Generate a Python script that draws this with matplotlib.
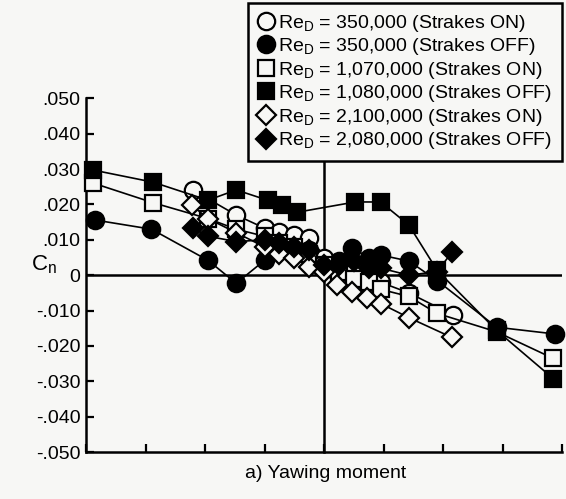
import matplotlib
matplotlib.use("Agg")
import matplotlib.pyplot as plt
from matplotlib.lines import Line2D

plt.rcParams["font.family"] = ["Liberation Sans", "DejaVu Sans"]
plt.rcParams["mathtext.fontset"] = "custom"
plt.rcParams["mathtext.rm"] = "Liberation Sans"
plt.rcParams["mathtext.it"] = "Liberation Sans"

# sideslip angle (deg) and yawing moment coefficient per run
beta_350_on = [-8.8, -5.9, -4.0, -3.0, -2.0, -1.0, 0.0, 1.0, 2.0, 3.0, 3.8, 5.7, 8.7]
cn_350_on = [0.024, 0.017, 0.0133, 0.0122, 0.0113, 0.0105, 0.005, 0.003, 0.002, 0.0,
             -0.002, -0.005, -0.0113]

beta_350_off = [-15.4, -11.6, -7.8, -5.9, -4.0, -3.0, -2.0, -1.0, 0.0, 1.0, 1.9, 3.0,
                3.8, 5.7, 7.6, 11.6, 15.5]
cn_350_off = [0.0156, 0.013, 0.0042, -0.0023, 0.0042, 0.008, 0.008, 0.007, 0.003, 0.004,
              0.0077, 0.005, 0.0057, 0.004, -0.0015, -0.0147, -0.0166]

beta_1070_on = [-15.5, -11.5, -7.8, -5.9, -4.0, -3.0, -2.0, -1.0, 0.0, 1.0, 2.0, 3.0,
                3.8, 5.7, 7.6, 11.6, 15.4]
cn_1070_on = [0.026, 0.0205, 0.016, 0.013, 0.011, 0.009, 0.008, 0.006, 0.003, 0.001,
              -0.001, -0.002, -0.004, -0.006, -0.0108, -0.016, -0.0235]

beta_1080_off = [-15.5, -11.5, -7.8, -5.9, -3.8, -2.8, -1.8, 2.1, 3.8, 5.7, 7.6, 11.6, 15.4]
cn_1080_off = [0.0297, 0.0263, 0.0212, 0.0241, 0.0212, 0.0198, 0.0178, 0.0207, 0.0207,
               0.0142, 0.0014, -0.0156, -0.0292]

beta_2100_on = [-8.9, -7.8, -5.9, -4.0, -3.0, -2.0, -1.0, 0.0, 0.9, 1.9, 2.9, 3.8, 5.7, 8.6]
cn_2100_on = [0.0198, 0.016, 0.012, 0.008, 0.006, 0.005, 0.0023, 0.001, -0.0028, -0.0048,
              -0.0065, -0.008, -0.012, -0.0176]

beta_2080_off = [-8.8, -7.8, -5.9, -4.0, -3.0, -2.0, -1.0, 0.0, 1.0, 2.0, 3.0, 3.8, 5.7,
                 7.6, 8.6]
cn_2080_off = [0.0133, 0.011, 0.0095, 0.010, 0.009, 0.008, 0.007, 0.003, 0.003, 0.004,
               0.002, 0.002, 0.0, 0.001, 0.0065]

labels = [
    "Re$_\\mathrm{D}$ = 350,000 (Strakes ON)",
    "Re$_\\mathrm{D}$ = 350,000 (Strakes OFF)",
    "Re$_\\mathrm{D}$ = 1,070,000 (Strakes ON)",
    "Re$_\\mathrm{D}$ = 1,080,000 (Strakes OFF)",
    "Re$_\\mathrm{D}$ = 2,100,000 (Strakes ON)",
    "Re$_\\mathrm{D}$ = 2,080,000 (Strakes OFF)",
]
yticks = [0.05, 0.04, 0.03, 0.02, 0.01, 0.0, -0.01, -0.02, -0.03, -0.04, -0.05]
yticklabels = [".050", ".040", ".030", ".020", ".010", "0",
               "-.010", "-.020", "-.030", "-.040", "-.050"]

bg = "#f7f7f5"
series = [
    (beta_350_on, cn_350_on, "o", bg, 12.5),
    (beta_350_off, cn_350_off, "o", "black", 12.5),
    (beta_1070_on, cn_1070_on, "s", bg, 11.5),
    (beta_1080_off, cn_1080_off, "s", "black", 11.5),
    (beta_2100_on, cn_2100_on, "D", bg, 10.5),
    (beta_2080_off, cn_2080_off, "D", "black", 10.5),
]

fig = plt.figure(figsize=(5.66, 4.99), dpi=100, facecolor=bg)
ax = fig.add_axes([0.152, 0.094, 0.841, 0.709], facecolor=bg)

ax.axhline(0, color="black", lw=1.8, zorder=1)
ax.plot([0, 0], [-0.05, 0.045], color="black", lw=1.8, zorder=1, clip_on=False)

handles = []
for (x, y, m, fc, ms), lab in zip(series, labels):
    ax.plot(x, y, color="black", lw=1.2, marker=m, markersize=ms,
            markerfacecolor=fc, markeredgecolor="black", markeredgewidth=1.6,
            clip_on=False, zorder=3)
    handles.append(Line2D([], [], ls="none", marker=m, markersize=ms,
                          markerfacecolor=fc, markeredgecolor="black",
                          markeredgewidth=1.6, label=lab))

ax.set_xlim(-16, 16)
ax.set_ylim(-0.05, 0.05)
ax.set_xticks(range(-16, 17, 4))
ax.set_xticklabels([])
ax.set_yticks(yticks)
ax.set_yticklabels(yticklabels, fontsize=14)
ax.tick_params(axis="both", direction="in", length=6, width=1.6, color="black")
ax.tick_params(axis="y", pad=4)

ax.spines["top"].set_visible(False)
ax.spines["right"].set_visible(False)
ax.spines["left"].set_linewidth(1.8)
ax.spines["bottom"].set_linewidth(1.8)

fig.text(0.078, 0.469, "C$_\\mathrm{n}$", fontsize=16, ha="center", va="center")
fig.text(0.575, 0.052, "a) Yawing moment", fontsize=14, ha="center", va="center")

leg = ax.legend(handles=handles, loc="upper right",
                bbox_to_anchor=(0.993, 0.994), bbox_transform=fig.transFigure,
                borderaxespad=0, fontsize=14, handlelength=0.9,
                handletextpad=0.15, labelspacing=0.13, borderpad=0.5,
                fancybox=False, framealpha=1, facecolor=bg, edgecolor="black")
leg.get_frame().set_linewidth(1.8)
leg.set_zorder(10)

fig.savefig("out.png", dpi=100, facecolor=bg)
